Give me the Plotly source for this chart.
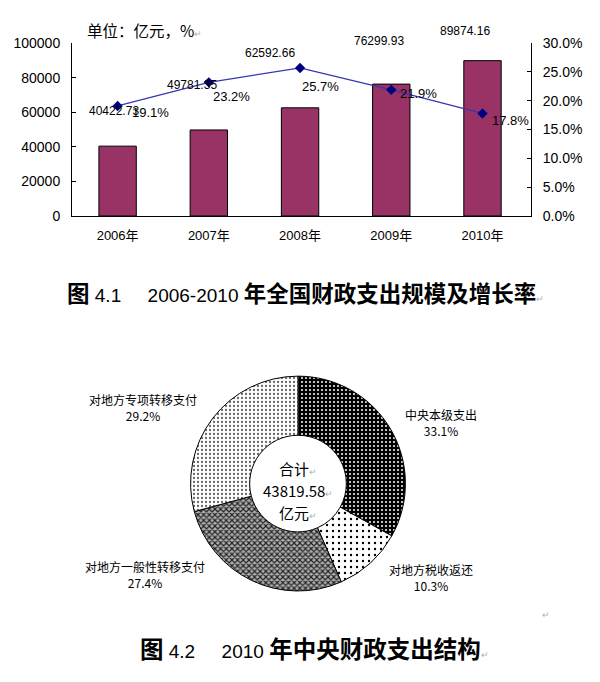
import plotly.graph_objects as go

# ---------------- data ----------------
years = ["2006年", "2007年", "2008年", "2009年", "2010年"]
spending = [40422.73, 49781.35, 62592.66, 76299.93, 89874.16]   # 亿元
growth = [19.1, 23.2, 25.7, 21.9, 17.8]                          # %

pie_labels = ["中央本级支出", "对地方税收返还", "对地方一般性转移支付", "对地方专项转移支付"]
pie_values = [33.1, 10.3, 27.4, 29.2]
pie_total = "43819.58"

y_ticks = [0, 20000, 40000, 60000, 80000, 100000]
y2_ticks = [0, 5, 10, 15, 20, 25, 30]

# ---------------- helpers (layout only) ----------------
W, H = 600, 682
def px(x):
    return x / W
def py(y):
    return 1 - y / H

FONT = "Liberation Sans, Arial, Noto Sans CJK SC"
CJK = "Noto Sans CJK SC, Liberation Sans"
MARK = "<span style='color:#b0b0b0;font-size:9px;font-weight:normal'>↵</span>"
NB = "\u00a0"

fig = go.Figure()

fig.add_trace(go.Bar(
    x=years, y=spending, yaxis="y", xaxis="x",
    marker=dict(color="#993366", line=dict(color="black", width=1)),
    hoverinfo="x+y",
))
fig.add_trace(go.Scatter(
    x=years, y=growth, yaxis="y2", xaxis="x", mode="lines+markers",
    line=dict(color="#3535b5", width=1.2),
    marker=dict(symbol="diamond", size=8, color="#000080"),
))

# donut
fig.add_trace(go.Pie(
    labels=pie_labels, values=pie_values, hole=0.45, sort=False,
    direction="clockwise", rotation=0, textinfo="none",
    domain=dict(x=[px(188), px(408)], y=[py(597), py(377)]),
    marker=dict(
        colors=["black", "white", "#888888", "#dddddd"],
        line=dict(color="black", width=1),
        pattern=dict(
            shape=[".", ".", "x", "."],
            fgcolor=["white", "black", "#222222", "#666666"],
            bgcolor=["black", "white", "#b0b0b0", "white"],
            size=[4, 6, 4, 4],
            solidity=[0.2, 0.12, 0.5, 0.25],
            fillmode="replace",
        ),
    ),
    showlegend=False,
))

fig.update_layout(
    width=W, height=H,
    margin=dict(l=0, r=0, t=0, b=0),
    paper_bgcolor="white", plot_bgcolor="white",
    showlegend=False,
    bargap=0.59,
    font=dict(family=FONT, color="black"),
    xaxis=dict(
        domain=[px(72), px(531)], anchor="y",
        showline=True, linecolor="black", linewidth=1,
        showgrid=False, ticks="", tickfont=dict(size=13, family=FONT),
        ticklabelstandoff=7,
    ),
    yaxis=dict(
        domain=[py(213), py(36)], anchor="x",
        range=[0, 100000], tickvals=y_ticks, tickformat="d",
        showline=True, linecolor="black", linewidth=1,
        showgrid=False, zeroline=False,
        ticks="inside", ticklen=4, tickcolor="black",
        tickfont=dict(size=14, family=FONT), ticklabelstandoff=8,
    ),
    yaxis2=dict(
        overlaying="y", side="right", anchor="x",
        range=[0, 30], tickvals=y2_ticks,
        ticktext=[f"{v:.1f}%" for v in y2_ticks],
        showline=True, linecolor="black", linewidth=1,
        showgrid=False, zeroline=False,
        ticks="inside", ticklen=4, tickcolor="black",
        tickfont=dict(size=14, family=FONT), ticklabelstandoff=8,
    ),
)

ann = []
# value labels (screen offsets from bar top)
val_off = [(-4, -35), (-17, -45), (-30, -55), (-12, -43), (-18, -30)]
for yr, v, (dx, dy) in zip(years, spending, val_off):
    ann.append(dict(x=yr, y=v, xref="x", yref="y", text=f"{v:.2f}",
                    showarrow=False, xshift=dx, yshift=-dy,
                    xanchor="center", yanchor="middle",
                    font=dict(size=12, family=FONT)))
# growth labels (screen offsets from marker)
pct_off = [(33, 7), (23, 14), (20, 19), (27, 4), (28, 7)]
for yr, g, (dx, dy) in zip(years, growth, pct_off):
    ann.append(dict(x=yr, y=g, xref="x", yref="y2", text=f"{g:.1f}%",
                    showarrow=False, xshift=dx, yshift=-dy,
                    xanchor="center", yanchor="middle",
                    font=dict(size=13, family=FONT)))

def paper_text(x, y, text, size, family=CJK, xanchor="center", color="black"):
    ann.append(dict(x=px(x), y=py(y), xref="paper", yref="paper",
                    xanchor=xanchor, yanchor="middle", text=text,
                    showarrow=False, font=dict(size=size, family=family, color=color)))

# unit label
paper_text(85, 23, "单位：亿元，%" + MARK, 15.5, xanchor="left")

NUM = "<span style='font-family:Liberation Sans;font-size:19px;font-weight:normal'>{}</span>"

# caption 1
paper_text(65, 291,
           "<b>图</b>" + NUM.format(NB + "4.1" + NB * 5 + "2006-2010" + NB)
           + "<b>年全国财政支出规模及增长率</b>" + MARK,
           22.5, xanchor="left")

# donut labels
lbl_pos = [(441, 424), (431, 583), (145, 580), (143, 409)]
for name, v, (x, y) in zip(pie_labels, pie_values, lbl_pos):
    paper_text(x, y, f"{name}<br>{v:.1f}%", 12)

# donut centre (three lines)
centre_lines = ["合计", pie_total, "亿元"]
for txt, y in zip(centre_lines, [472, 494, 517]):
    paper_text(298, y, txt + MARK, 15)

# stray paragraph mark
paper_text(546, 622, "↵", 9, family=FONT, color="#b0b0b0")

# caption 2
paper_text(138, 655,
           "<b>图</b>" + NUM.format(NB + "4.2" + NB * 5 + "2010" + NB)
           + "<b>年中央财政支出结构</b>" + MARK,
           23.5, xanchor="left")

fig.update_layout(annotations=ann)
fig.write_html(
    "out.html",
    config={"displayModeBar": False},
    post_script="document.body.style.margin='0';document.body.style.overflow='hidden';",
)
